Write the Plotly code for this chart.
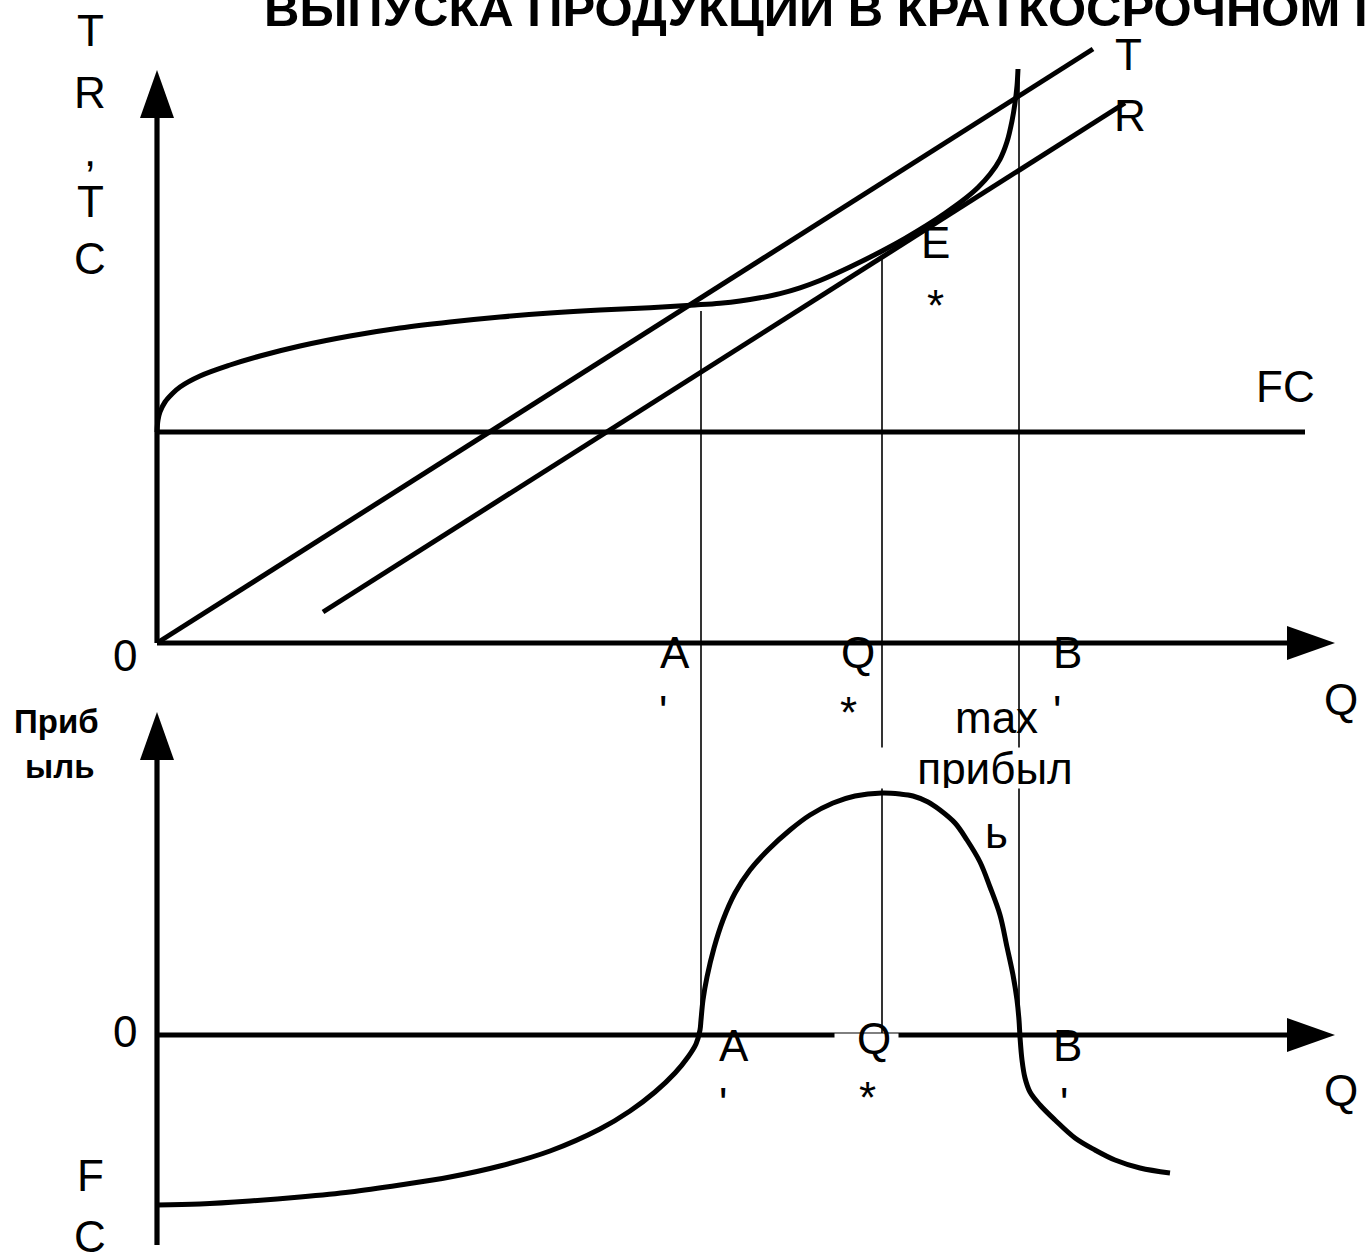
import plotly.graph_objects as go

# ---------------- data (schematic units) ----------------
# Top panel: TR, TC vs Q
TC_Q = [0, 0.1, 0.3, 0.8, 1.5, 2.3, 4.3, 7.3, 10.3, 14.3, 19.3, 24.3, 29.3, 34.3, 39.3,
        44.3, 49.3, 53.8, 56.3, 58.3, 60.3, 62.3, 64.3, 66.3, 69.3, 72.6, 74.8, 77.0,
        78.8, 80.6, 82.1, 83.3, 84.3, 85.0, 85.5, 85.8, 86.0, 86.1]
TC = [21.1, 22.3, 23.1, 24.1, 24.9, 25.6, 26.7, 27.8, 28.7, 29.7, 30.7, 31.5, 32.1, 32.6,
      33.0, 33.3, 33.52, 33.8, 33.98, 34.2, 34.52, 34.94, 35.52, 36.25, 37.6, 39.25, 40.46,
      41.78, 42.97, 44.27, 45.55, 46.87, 48.37, 50.12, 52.2, 54.0, 55.7, 57.4]
TR_Q = [0, 93.6]
TR = [0, 59.4]
TR2_Q = [16.6, 96.8]
TR2 = [3.1, 54.0]
FC_Q = [0, 114.8]
FC = [21.1, 21.1]

# Key outputs: A', Q*, B'
KEY_Q = [54.4, 72.5, 86.2]
KEY_TOP = [33.2, 38.8, 57.4]

# Bottom panel: profit vs Q
PR_Q = [0, 4.3, 9.3, 14.3, 19.3, 24.3, 29.3, 34.3, 39.3, 44.3, 47.3, 49.8, 51.8, 53.1,
        53.9, 54.3, 54.4, 54.6, 55.0, 55.7, 56.6, 57.8, 59.3, 61.1, 63.3, 65.3, 67.6,
        69.8, 72.5, 74.3, 75.6, 77.1, 78.3, 79.8, 81.0, 82.3, 83.3, 84.3, 85.0, 85.6,
        86.0, 86.2, 86.3, 86.5, 86.8, 87.3, 88.3, 89.8, 91.8, 93.8, 95.8, 98.3, 101.3]
PROFIT = [-17.0, -16.9, -16.6, -16.2, -15.7, -15.0, -14.2, -13.1, -11.6, -9.4, -7.6, -5.7,
          -3.8, -2.2, -0.9, 0.5, 1.5, 3.5, 5.8, 8.7, 11.5, 14.2, 16.5, 18.5, 20.5, 22.0,
          23.2, 23.9, 24.2, 24.1, 23.9, 23.3, 22.5, 21.2, 19.5, 17.3, 14.8, 12.0, 8.8,
          6.0, 3.5, 1.5, -0.2, -2.5, -4.3, -5.7, -7.0, -8.5, -10.3, -11.5, -12.5, -13.3,
          -13.8]

# axis extents
Q_AXIS_END = 117.8
TOP_AXIS_END = 57.3
BOT_AXIS_END = 32.3
BOT_AXIS_START = -21.0

# ---------------- styles / layout ----------------
W, H = 1365, 1260
X_RANGE = [-15.7, 120.8]
Y_RANGE = [-61.7, 64.3]
Y2_RANGE = [-22.5, 103.5]
ARROW_LEN = 4.8
ARROW_HALF = 1.7
FONT = "Liberation Sans, Arial, sans-serif"
CURVE_W = 5.0
AXIS_W = 5.2

fig = go.Figure()


def add_line(q, v, axis="y", width=CURVE_W, shape="linear", smoothing=1.0):
    fig.add_trace(go.Scatter(x=q, y=v, mode="lines", yaxis=axis,
                             line=dict(color="black", width=width, shape=shape, smoothing=smoothing),
                             hoverinfo="skip", showlegend=False))


def add_poly(q, v, axis="y"):
    fig.add_trace(go.Scatter(x=q, y=v, mode="lines", fill="toself", yaxis=axis,
                             fillcolor="black", line=dict(color="black", width=0),
                             hoverinfo="skip", showlegend=False))


def top_to_bottom(v):
    # convert a top-panel value to bottom-axis units via the two axis ranges
    frac = (v - Y_RANGE[0]) / (Y_RANGE[1] - Y_RANGE[0])
    return Y2_RANGE[0] + frac * (Y2_RANGE[1] - Y2_RANGE[0])


# thin verticals connecting the panels
for q, top in zip(KEY_Q, KEY_TOP):
    add_line([q, q], [top_to_bottom(top), 0], axis="y2", width=1.6)

# top panel axes
add_line([0, 0], [0, TOP_AXIS_END - ARROW_LEN], width=AXIS_W)
add_poly([-ARROW_HALF, ARROW_HALF, 0, -ARROW_HALF],
         [TOP_AXIS_END - ARROW_LEN, TOP_AXIS_END - ARROW_LEN, TOP_AXIS_END, TOP_AXIS_END - ARROW_LEN])
add_line([0, Q_AXIS_END - ARROW_LEN], [0, 0], width=AXIS_W)
add_poly([Q_AXIS_END - ARROW_LEN, Q_AXIS_END - ARROW_LEN, Q_AXIS_END, Q_AXIS_END - ARROW_LEN],
         [-ARROW_HALF, ARROW_HALF, 0, -ARROW_HALF])

# top panel curves
add_line(FC_Q, FC)
add_line(TR_Q, TR)
add_line(TR2_Q, TR2)
add_line(TC_Q, TC, shape="spline", smoothing=1.0)

# bottom panel axes
add_line([0, 0], [BOT_AXIS_START, BOT_AXIS_END - ARROW_LEN], axis="y2", width=AXIS_W)
add_poly([-ARROW_HALF, ARROW_HALF, 0, -ARROW_HALF],
         [BOT_AXIS_END - ARROW_LEN, BOT_AXIS_END - ARROW_LEN, BOT_AXIS_END, BOT_AXIS_END - ARROW_LEN],
         axis="y2")
add_line([0, Q_AXIS_END - ARROW_LEN], [0, 0], axis="y2", width=AXIS_W)
add_poly([Q_AXIS_END - ARROW_LEN, Q_AXIS_END - ARROW_LEN, Q_AXIS_END, Q_AXIS_END - ARROW_LEN],
         [-ARROW_HALF, ARROW_HALF, 0, -ARROW_HALF], axis="y2")

# profit curve
add_line(PR_Q, PROFIT, axis="y2", shape="spline", smoothing=1.0)

# ---------------- text ----------------
ann = []


def label(text, px, py, size=44, bold=False, **kw):
    d = dict(text=f"<b>{text}</b>" if bold else text, xref="paper", yref="paper",
             x=px / W, y=1 - py / H, xanchor="center", yanchor="middle",
             showarrow=False, font=dict(family=FONT, size=size, color="black"))
    d.update(kw)
    ann.append(d)


label("ВЫПУСКА ПРОДУКЦИИ В КРАТКОСРОЧНОМ ПЕРИОДЕ", 262, 9, size=49, bold=True, xanchor="left")

# left axis title (top)
for t, y in [("T", 30), ("R", 93), (",", 150), ("T", 202), ("C", 259)]:
    label(t, 90, y)
label("0", 125, 655)
label("0", 125, 1031)
label("FC", 1285, 386)
label("T", 1128, 55)
label("R", 1130, 115)
label("E", 935, 243)
label("*", 935, 305)
label("A", 675, 652)
label("'", 663, 711)
label("Q", 858, 652)
label("*", 848, 712)
label("B", 1067, 652)
label("'", 1057, 711)
label("Q", 1341, 699)
label("max", 996, 717)
label("прибыл", 995, 768, bgcolor="white", width=228, height=40, borderpad=0)
label("ь", 996, 832)

# bottom panel
label("Приб", 57, 721, size=33, bold=True)
label("ыль", 59, 767, size=33, bold=True)
label(" ", 866, 1042, size=10, bgcolor="white", width=63, height=17, borderpad=0)
label("A", 734, 1045)
label("'", 723, 1103)
label("Q", 874, 1038)
label("*", 867, 1097)
label("B", 1067, 1045)
label("'", 1064, 1103)
label("Q", 1341, 1090)
label("F", 90, 1175)
label("C", 90, 1236)

fig.update_layout(
    width=W, height=H, margin=dict(l=0, r=0, t=0, b=0),
    paper_bgcolor="white", plot_bgcolor="white",
    xaxis=dict(range=X_RANGE, visible=False, fixedrange=True),
    yaxis=dict(range=Y_RANGE, visible=False, fixedrange=True, domain=[0, 1]),
    yaxis2=dict(range=Y2_RANGE, visible=False, fixedrange=True, overlaying="y"),
    annotations=ann, showlegend=False,
)

fig.write_html("out.html", config={"displayModeBar": False},
               post_script="document.body.style.margin='0';document.body.style.overflow='hidden';")
